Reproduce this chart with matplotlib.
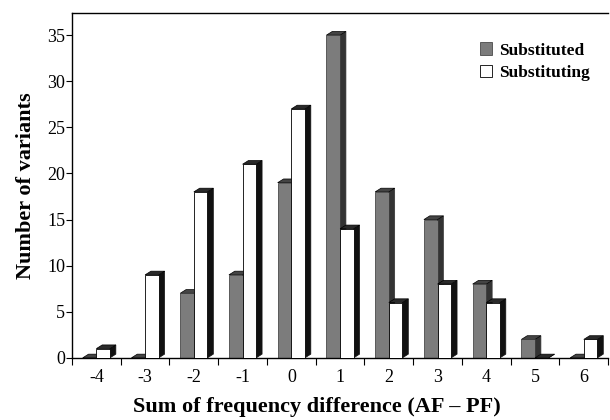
import numpy as np
import matplotlib.pyplot as plt
import matplotlib
from matplotlib.patches import Polygon

matplotlib.rcParams['font.family'] = 'serif'
matplotlib.rcParams['font.serif'] = ['Liberation Serif', 'DejaVu Serif']

# data
diff = [-4, -3, -2, -1, 0, 1, 2, 3, 4, 5, 6]
substituted = [0, 0, 7, 9, 19, 35, 18, 15, 8, 2, 0]
substituting = [1, 9, 18, 21, 27, 14, 6, 8, 6, 0, 2]

c_sub = '#7c7c7c'
c_ing = 'white'
width = 0.28
dx, dy = 0.12, 0.4   # fake 3d depth, data units


def bar3d(ax, x0, h, top, side):
    ax.add_patch(Polygon([(x0 + width, 0), (x0 + width + dx, dy),
                          (x0 + width + dx, h + dy), (x0 + width, h)],
                         closed=True, fc=side, ec=side, lw=0.5, zorder=2))
    ax.add_patch(Polygon([(x0, h), (x0 + dx, h + dy),
                          (x0 + width + dx, h + dy), (x0 + width, h)],
                         closed=True, fc=top, ec='black', lw=0.5, zorder=2))


fig, ax = plt.subplots(figsize=(6.1, 4.2), dpi=100)
fig.subplots_adjust(left=0.118, right=0.997, top=0.969, bottom=0.148)

x = np.array(diff, dtype=float)
for xi, h in zip(x, substituted):
    bar3d(ax, xi - width, h, '#444444', '#333333')
ax.bar(x - width, substituted, width, align='edge', color=c_sub,
       edgecolor='#333333', lw=0.5, zorder=2, label='Substituted')
for xi, h in zip(x, substituting):
    bar3d(ax, xi, h, '#2a2a2a', '#111111')
ax.bar(x, substituting, width, align='edge', color=c_ing,
       edgecolor='black', lw=0.6, zorder=3, label='Substituting')

ax.set_xlim(-4.5, 6.5)
ax.set_ylim(0, 37.4)
ax.set_yticks(range(0, 36, 5))
ax.set_xticks(np.arange(-4.5, 7, 1))
ax.set_xticklabels([])
ax.set_xticks(x, minor=True)
ax.set_xticklabels([str(d) for d in diff], minor=True)
ax.tick_params(axis='x', which='minor', length=0, pad=8, labelsize=13)
ax.tick_params(axis='x', which='major', length=5, direction='out')
ax.tick_params(axis='y', length=4, direction='out', labelsize=13, pad=1)
ax.spines['right'].set_visible(False)
for s in ['left', 'top', 'bottom']:
    ax.spines[s].set_linewidth(1.0)

ax.set_xlabel('Sum of frequency difference (AF \u2013 PF)', fontsize=16,
              fontweight='bold')
ax.xaxis.set_label_coords(0.457, -0.115)
ax.set_ylabel('Number of variants', fontsize=16, fontweight='bold', labelpad=8)

ax.legend(loc='upper right', frameon=False, prop={'weight': 'bold', 'size': 12.5},
          handlelength=0.7, handleheight=0.7, handletextpad=0.4,
          labelspacing=0.35, bbox_to_anchor=(0.995, 0.96))

fig.savefig('out.png', dpi=100)
